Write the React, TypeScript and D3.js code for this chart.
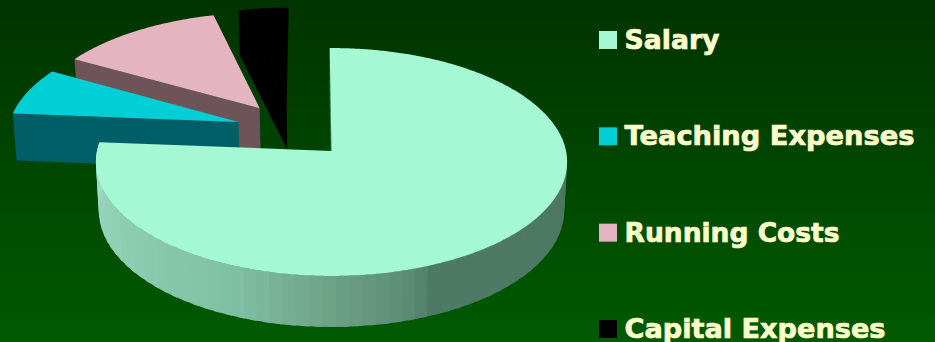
import React from "react";
import * as d3 from "d3";

const categories = ["Salary", "Teaching Expenses", "Running Costs", "Capital Expenses"];
const values = [76.4, 6.9, 12.8, 3.9];
const topColors = ["#a4f8d4", "#00d0d6", "#e4b4c0", "#000000"];
const wallColors = ["#4e7a65", "#005f66", "#6e5359", "#000000"];

const W = 935, H = 342;
const CX = 331.5, CY = 151, RX = 234.5, RY = 112.9, PERSP = -0.0965;
const DEPTH = 48, DEPTH_Y = 1.0244, DEPTH_X = 0.988;
const explodeDist = [0, 0.485, 0.505, 0.49];
const explodeAngle = [0, 303, 321, 336];

const rad = (d: number) => (d * Math.PI) / 180;
const deg = (r: number) => (r * 180) / Math.PI;

type Pt = [number, number];
const project = (u: number, v: number, bottom = false): Pt => {
  const k = 1 + PERSP * v;
  const dx = (RX * u) / k;
  const dy = (RY * v) / k;
  return bottom
    ? [CX + dx * DEPTH_X, CY + dy * DEPTH_Y + DEPTH]
    : [CX + dx, CY + dy];
};

const line = d3.line<Pt>();
const salaryShade = d3
  .scaleLinear<string>()
  .domain([100, 155, 160, 180, 200, 240, 275])
  .range(["#4d7763", "#4e7a65", "#5a8a74", "#6ea388", "#7fbfa3", "#8fcfb4", "#a0dcc4"])
  .clamp(true);

export default function App() {
  const arcs = d3
    .pie<number>()
    .sort(null)
    .startAngle(rad(-0.5))
    .endAngle(rad(359.5))(values);

  const slices = arcs.map((a, i) => {
    const offU = explodeDist[i] * Math.sin(rad(explodeAngle[i]));
    const offV = -explodeDist[i] * Math.cos(rad(explodeAngle[i]));
    const a0 = deg(a.startAngle), a1 = deg(a.endAngle);
    const at = (ang: number, r: number, bottom = false) =>
      project(offU + r * Math.sin(rad(ang)), offV - r * Math.cos(rad(ang)), bottom);
    const angles = d3.range(a0, a1, 0.5).concat(a1);
    const top: Pt[] = [at(0, 0), ...angles.map((x) => at(x, 1))];
    const norm = (x: number) => ((x % 360) + 360) % 360;
    const walls: { d: string; fill: string }[] = [];
    const radial = (ang: number) => [at(0, 0), at(ang, 1), at(ang, 1, true), at(0, 0, true)] as Pt[];
    if (norm(a0) > 180) walls.push({ d: line(radial(a0))!, fill: wallColors[i] });
    if (norm(a1) < 180) walls.push({ d: line(radial(a1))!, fill: wallColors[i] });
    // outer rim, in vertical bands; each band overlaps the next to avoid seams
    const step = 3;
    for (let x = Math.max(a0, 80); x < Math.min(a1, 280); x += step) {
      const e = Math.min(x + step + 1.5, a1);
      const pts: Pt[] = [at(x, 1), at(e, 1), at(e, 1, true), at(x, 1, true)];
      walls.push({ d: line(pts)!, fill: i === 0 ? salaryShade(x) : wallColors[i] });
    }
    return { i, walls, top: line(top)! + "Z" };
  });

  const order = [3, 2, 1, 0];
  const legendY = d3.scalePoint<string>().domain(categories).range([31, 320]);

  return (
    <svg
      width={W}
      height={H}
      viewBox={`0 0 ${W} ${H}`}
      style={{ position: "absolute", left: 0, top: 0, display: "block" }}
    >
      <defs>
        <linearGradient id="bg" x1="0" y1="0" x2="0" y2="1">
          <stop offset="0" stopColor="#003300" />
          <stop offset="1" stopColor="#005a00" />
        </linearGradient>
      </defs>
      <rect width={W} height={H} fill="url(#bg)" />
      {order.map((k) => (
        <g key={k}>
          {slices[k].walls.map((w, j) => (
            <path key={j} d={w.d + "Z"} fill={w.fill} />
          ))}
          <path d={slices[k].top} fill={topColors[k]} />
        </g>
      ))}
      {categories.map((c, i) => (
        <g key={c} transform={`translate(599,${legendY(c)})`}>
          <rect width={18} height={18} fill={topColors[i]} />
          <text
            x={25.5}
            y={18}
            fontFamily="'DejaVu Sans', sans-serif"
            fontWeight={700}
            fontSize={27}
            fill="#ffffcc"
            stroke="#ffffcc"
            strokeWidth={0.7}
            textLength={[95, 290, 215, 261][i]}
            lengthAdjust="spacingAndGlyphs"
          >
            {c}
          </text>
        </g>
      ))}
    </svg>
  );
}
